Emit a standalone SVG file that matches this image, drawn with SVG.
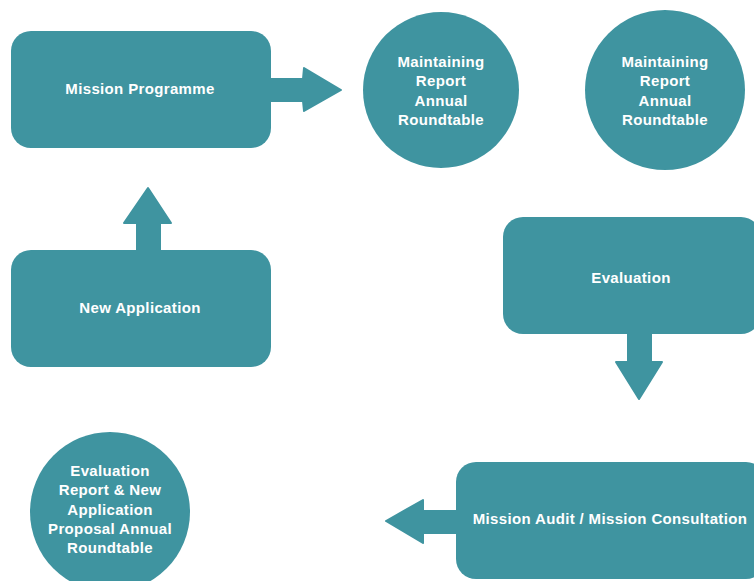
<svg xmlns="http://www.w3.org/2000/svg" width="754" height="581" viewBox="0 0 754 581">
<style>
.n{fill:#3F94A0}
.a{fill:#3F94A0;stroke:#3F94A0;stroke-width:2;stroke-linejoin:round}
.t{fill:#fff;font-family:"Liberation Sans",Arial,sans-serif;font-weight:bold;font-size:15px;letter-spacing:0.35px;text-anchor:middle}
</style>
<rect width="754" height="581" fill="#fff"/>
<g id="connectors" class="a">
<polygon points="271,79 303,79 304,68 341,90 304,111 303,101 271,101"/>
<polygon points="137,250 137,223 124,223 148,188 171,223 160,223 160,250"/>
<polygon points="628,334 651,334 651,362 662,362 639,399 616,362 628,362"/>
<polygon points="456,511 423,511 423,500 386,521 423,543 423,533 456,533"/>
</g>
<g id="mission-programme"><rect class="n" x="11" y="31" width="260" height="117" rx="20"/><text class="t" x="140" y="94">Mission Programme</text></g>
<g id="new-application"><rect class="n" x="11" y="250" width="260" height="117" rx="20"/><text class="t" x="140" y="313">New Application</text></g>
<g id="maintaining-1"><circle class="n" cx="441" cy="90" r="78"/>
<text class="t" x="441" y="67">Maintaining</text><text class="t" x="441" y="86">Report</text><text class="t" x="441" y="106">Annual</text><text class="t" x="441" y="125">Roundtable</text></g>
<g id="maintaining-2"><circle class="n" cx="665" cy="90" r="80"/>
<text class="t" x="665" y="67">Maintaining</text><text class="t" x="665" y="86">Report</text><text class="t" x="665" y="106">Annual</text><text class="t" x="665" y="125">Roundtable</text></g>
<g id="evaluation"><rect class="n" x="503" y="217" width="258" height="117" rx="20"/><text class="t" x="631" y="283">Evaluation</text></g>
<g id="mission-audit"><rect class="n" x="456" y="462" width="310" height="117" rx="20"/><text class="t" x="610" y="524">Mission Audit / Mission Consultation</text></g>
<g id="evaluation-report"><circle class="n" cx="110" cy="512" r="80"/>
<text class="t" x="110" y="476">Evaluation</text><text class="t" x="110" y="495">Report &amp; New</text><text class="t" x="110" y="515">Application</text><text class="t" x="110" y="534">Proposal Annual</text><text class="t" x="110" y="553">Roundtable</text></g>
</svg>
